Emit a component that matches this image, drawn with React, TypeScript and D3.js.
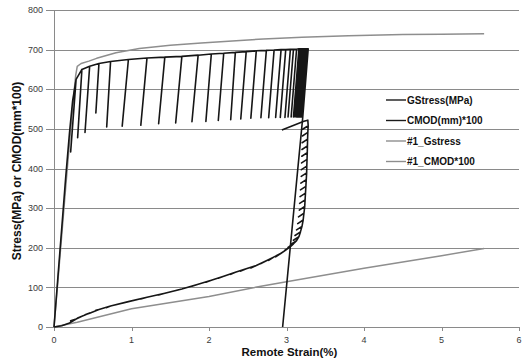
import React from "react";
import * as d3 from "d3";

// Axis ticks
const xTicks = [0, 1, 2, 3, 4, 5, 6];
const yTicks = [0, 100, 200, 300, 400, 500, 600, 700, 800];

// GStress(MPa): monotonic loading up to the first unload
const gLoadStrain = [0, 0.05, 0.1, 0.15, 0.2, 0.24];
const gLoadStress = [0, 125, 250, 375, 490, 570];

// Unload/reload cycles (peak -> valley -> back to peak)
const cyclePeakStrain = [
  0.285, 0.36, 0.46, 0.58, 0.73, 0.96, 1.2, 1.43, 1.65, 1.86, 2.03, 2.19, 2.34, 2.48, 2.61,
  2.74, 2.84, 2.93, 2.99, 3.05, 3.09, 3.13, 3.16, 3.18, 3.2, 3.215, 3.225, 3.235, 3.24, 3.245,
  3.25, 3.255, 3.26, 3.262, 3.265, 3.268, 3.27, 3.272, 3.275, 3.28,
];
const cyclePeakStress = [
  625, 650, 658, 665, 670, 675, 679, 681, 683, 686, 689, 691, 693, 695, 697,
  698, 699, 700, 700, 701, 701, 701, 702, 702, 702, 702, 702, 702, 702, 702,
  702, 702, 702, 702, 702, 702, 702, 702, 702, 702,
];
const cycleValleyStrain = [
  0.215, 0.305, 0.4, 0.54, 0.68, 0.88, 1.12, 1.35, 1.57, 1.78, 1.96, 2.12, 2.28, 2.41, 2.54,
  2.67, 2.77, 2.86, 2.92, 2.98, 3.02, 3.06, 3.09, 3.11, 3.13, 3.145, 3.155, 3.165, 3.17, 3.175,
  3.18, 3.185, 3.19, 3.192, 3.195, 3.198, 3.2, 3.202, 3.205, 3.208,
];
const cycleValleyStress = [
  442, 478, 491, 540, 505, 507, 509, 513, 515, 518, 519, 521, 523, 525, 527,
  528, 528, 529, 529, 529, 530, 530, 530, 530, 530, 530, 530, 530, 530, 530,
  530, 530, 530, 530, 530, 530, 530, 530, 530, 530,
];
const cyclePeakCmod = [
  20, 27, 35, 44, 53, 64, 75, 85, 96, 108, 118, 128, 138, 147, 155,
  167, 177, 186, 194, 203, 210, 218, 228, 240, 254, 270, 287, 304, 321, 338,
  355, 372, 389, 406, 423, 440, 457, 474, 491, 508,
];
const cycleValleyCmod = [
  16, 23, 31, 42, 49, 60, 71, 81, 92, 103, 113, 123, 133, 141, 149,
  160, 168, 177, 185, 194, 201, 209, 219, 231, 245, 261, 278, 295, 312, 329,
  346, 363, 380, 397, 414, 431, 448, 465, 482, 499,
];

// Final unloading of the stress to zero
const gFinalStrain = [3.21, 2.95];
const gFinalStress = [530, 0];

// CMOD(mm)*100: opening before the first cycle and closing after the last one
const cLoadStrain = [0, 0.1, 0.2];
const cLoadValue = [0, 3, 10];
const cFinalStrain = [3.275, 3.225, 2.94];
const cFinalValue = [522, 519, 497];

// #1 specimen, monotonic test
const g1Strain = [0, 0.05, 0.1, 0.15, 0.2, 0.25, 0.28, 0.3, 0.35, 0.45, 0.55, 0.8, 1.1, 1.5, 1.9, 2.3, 2.7, 3.2, 3.8, 4.5, 5.0, 5.55];
const g1Stress = [0, 115, 232, 350, 465, 575, 635, 658, 665, 671, 678, 692, 703, 711, 717, 722, 727, 731, 735, 738, 739, 740];
const c1Strain = [0, 0.3, 1.0, 2.0, 2.67, 3.0, 4.0, 5.0, 5.55];
const c1Value = [0, 12, 46, 77, 103, 114, 148, 180, 198];

const legendItems = [
  { label: "GStress(MPa)", color: "#1a1a1a" },
  { label: "CMOD(mm)*100", color: "#1a1a1a" },
  { label: "#1_Gstress", color: "#8e8e8e" },
  { label: "#1_CMOD*100", color: "#8e8e8e" },
];

type Pt = [number, number];

function zip(xs: number[], ys: number[]): Pt[] {
  return xs.map((x, i) => [x, ys[i]] as Pt);
}

function buildGStress(): Pt[] {
  const pts: Pt[] = zip(gLoadStrain, gLoadStress);
  cyclePeakStrain.forEach((s, i) => {
    pts.push([s, cyclePeakStress[i]]);
    pts.push([cycleValleyStrain[i], cycleValleyStress[i]]);
    pts.push([s, cyclePeakStress[i]]);
  });
  return pts.concat(zip(gFinalStrain, gFinalStress));
}

function buildCmod(): Pt[] {
  const pts: Pt[] = zip(cLoadStrain, cLoadValue);
  cyclePeakStrain.forEach((s, i) => {
    pts.push([s, cyclePeakCmod[i]]);
    pts.push([cycleValleyStrain[i], cycleValleyCmod[i]]);
    pts.push([s, cyclePeakCmod[i]]);
  });
  return pts.concat(zip(cFinalStrain, cFinalValue));
}

export default function App() {
  const W = 522;
  const H = 362;
  const left = 54;
  const right = 519;
  const top = 10;
  const bottom = 327;

  const x = d3.scaleLinear().domain([0, 6]).range([left, right]);
  const y = d3.scaleLinear().domain([0, 800]).range([bottom, top]);
  const line = d3
    .line<Pt>()
    .x((d) => x(d[0]))
    .y((d) => y(d[1]));

  const font = "'Liberation Sans', Arial, sans-serif";

  const series = [
    { pts: zip(c1Strain, c1Value), color: "#8e8e8e", w: 1.5 },
    { pts: zip(g1Strain, g1Stress), color: "#8e8e8e", w: 1.5 },
    { pts: buildCmod(), color: "#161616", w: 1.6 },
    { pts: buildGStress(), color: "#161616", w: 1.6 },
  ];

  return (
    <div style={{ position: "fixed", left: 0, top: 0 }}>
      <svg width={W} height={H} style={{ display: "block", background: "#fff" }}>
        {/* gridlines */}
        {yTicks.map((t) => (
          <line
            key={"g" + t}
            x1={left}
            x2={right}
            y1={Math.round(y(t)) + 0.5}
            y2={Math.round(y(t)) + 0.5}
            stroke="#8a8a8a"
            strokeWidth={1}
          />
        ))}
        {/* y axis */}
        <line x1={left + 0.5} x2={left + 0.5} y1={top} y2={bottom + 0.5} stroke="#8a8a8a" />
        {yTicks.map((t) => (
          <g key={"yt" + t}>
            <line
              x1={left - 8}
              x2={left}
              y1={Math.round(y(t)) + 0.5}
              y2={Math.round(y(t)) + 0.5}
              stroke="#8a8a8a"
            />
            <text
              x={43}
              y={y(t) + 3.2}
              textAnchor="end"
              fontFamily={font}
              fontSize={9}
              fill="#3a3a3a"
            >
              {t}
            </text>
          </g>
        ))}
        {/* x axis ticks */}
        {xTicks.map((t) => (
          <g key={"xt" + t}>
            <line
              x1={Math.round(x(t)) + 0.5}
              x2={Math.round(x(t)) + 0.5}
              y1={bottom}
              y2={bottom + 4}
              stroke="#8a8a8a"
            />
            <text
              x={x(t)}
              y={343}
              textAnchor="middle"
              fontFamily={font}
              fontSize={9}
              fill="#3a3a3a"
            >
              {t}
            </text>
          </g>
        ))}
        {/* series */}
        {series.map((s, i) => (
          <path
            key={"s" + i}
            d={line(s.pts) || ""}
            fill="none"
            stroke={s.color}
            strokeWidth={s.w}
            strokeLinejoin="round"
          />
        ))}
        {/* axis titles */}
        <text
          x={(left + right) / 2 + 3}
          y={356}
          textAnchor="middle"
          fontFamily={font}
          fontWeight="bold"
          fontSize={11.5}
          fill="#111"
        >
          Remote Strain(%)
        </text>
        <text
          transform={`translate(20.5,171) rotate(-90)`}
          textAnchor="middle"
          fontFamily={font}
          fontWeight="bold"
          fontSize={12}
          fill="#111"
        >
          Stress(MPa) or CMOD(mm*100)
        </text>
        {/* legend */}
        {legendItems.map((it, i) => {
          const ly = 100 + i * 20.5;
          return (
            <g key={"lg" + i}>
              <line x1={386} x2={406} y1={ly} y2={ly} stroke={it.color} strokeWidth={1.4} />
              <text x={407} y={ly + 3.5} fontFamily={font} fontWeight="bold" fontSize={10} fill="#111">
                {it.label}
              </text>
            </g>
          );
        })}
      </svg>
    </div>
  );
}
